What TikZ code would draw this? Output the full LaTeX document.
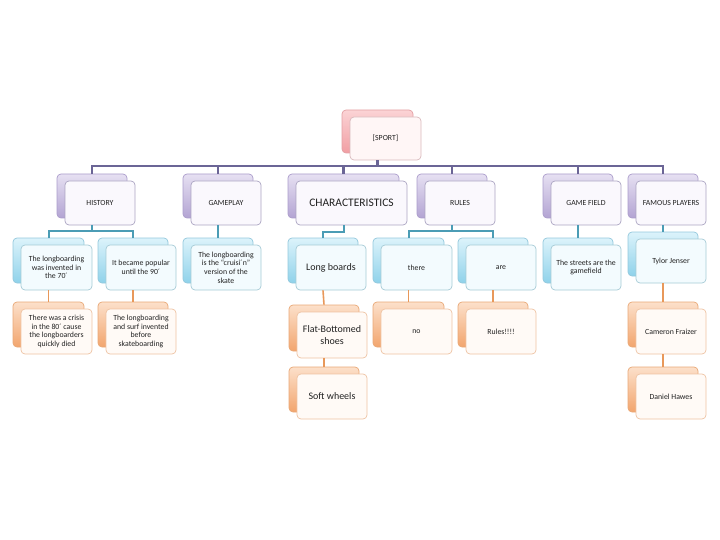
\documentclass[tikz,border=0pt]{standalone}
\usepackage{fontspec}
\setmainfont{Carlito}
\usetikzlibrary{calc}
\definecolor{txt}{HTML}{222222}
\definecolor{barc}{HTML}{6B6596}
\definecolor{tealc}{HTML}{4B9CB5}
\definecolor{orc}{HTML}{E8985A}
\definecolor{pkT}{HTML}{FBD3D5}\definecolor{pkB}{HTML}{F19EA3}\definecolor{pkD}{HTML}{E3A0A4}
\definecolor{pkF}{HTML}{FFF6F6}\definecolor{pkE}{HTML}{D9B9BC}
\definecolor{lvT}{HTML}{E6E0F2}\definecolor{lvB}{HTML}{B3A4D3}\definecolor{lvD}{HTML}{AB9DCB}
\definecolor{lvF}{HTML}{FAF8FD}\definecolor{lvE}{HTML}{ABA4C2}
\definecolor{cyT}{HTML}{DCF3FB}\definecolor{cyB}{HTML}{8FD2EA}\definecolor{cyD}{HTML}{93C8DC}
\definecolor{cyF}{HTML}{F3FBFE}\definecolor{cyE}{HTML}{A6CBD6}
\definecolor{orT}{HTML}{FCE0CA}\definecolor{orB}{HTML}{F2A56E}\definecolor{orD}{HTML}{E9A877}
\definecolor{orF}{HTML}{FFFAF6}\definecolor{orE}{HTML}{EEC3A3}
\tikzset{
  boxbase/.style={rectangle, rounded corners=4pt, inner sep=1pt, line width=0.7pt, align=center, text=txt, font=\fontsize{7.8}{8.6}\selectfont},
  backP/.style={boxbase, draw=pkD, top color=pkT, bottom color=pkB},
  backL/.style={boxbase, draw=lvD, top color=lvT, bottom color=lvB},
  backC/.style={boxbase, draw=cyD, top color=cyT, bottom color=cyB},
  backO/.style={boxbase, draw=orD, top color=orT, bottom color=orB},
  frontP/.style={boxbase, draw=pkE, fill=pkF},
  frontL/.style={boxbase, draw=lvE, fill=lvF},
  frontC/.style={boxbase, draw=cyE, fill=cyF},
  frontO/.style={boxbase, draw=orE, fill=orF},
  bigtext/.style={font=\fontsize{10}{11.5}\selectfont},
  hugetext/.style={font=\fontsize{11.5}{13}\selectfont},
  barline/.style={draw=barc, line width=2.2pt},
  tealline/.style={draw=tealc, line width=2pt},
  orline/.style={draw=orc, line width=1.6pt},
}
% #1 name, #2 cx, #3 cy (back box), #4 w, #5 h, #6 colour key, #7 extra style, #8 text
\newcommand{\dblbox}[8]{%
  \node[back#6, minimum width=#4pt, minimum height=#5pt] (#1b) at (#2,#3) {};
  \node[front#6, #7, minimum width=#4pt, minimum height=#5pt] (#1) at ($(#1b)+(8,7)$) {#8};}
\begin{document}
\begin{tikzpicture}[x=1pt,y=-1pt]
\useasboundingbox (0,0) rectangle (720,540);
% root
\dblbox{sport}{377.5}{131.5}{71}{43}{P}{}{[SPORT]}
% level 1
\dblbox{hist}{92}{196}{70}{44}{L}{}{HISTORY}
\dblbox{game}{218}{196}{70}{44}{L}{}{GAMEPLAY}
\dblbox{char}{343.5}{196}{111}{44}{L}{hugetext}{CHARACTERISTICS}
\dblbox{rules}{452}{196}{70}{44}{L}{}{RULES}
\dblbox{field}{578}{196}{70}{44}{L}{}{GAME FIELD}
\dblbox{famous}{663}{196}{70}{44}{L}{}{FAMOUS PLAYERS}
% level 2
\dblbox{inv}{48.5}{260.5}{71}{45}{C}{}{The longboarding\\was invented in\\the 70´}
\dblbox{pop}{133}{260.5}{70}{45}{C}{}{It became popular\\until the 90´}
\dblbox{cruis}{218}{260.5}{70}{45}{C}{}{The longboarding\\is the “cruisi´n”\\version of the\\skate}
\dblbox{longb}{323}{260.5}{70}{45}{C}{bigtext}{Long boards}
\dblbox{there}{408.5}{260.5}{71}{45}{C}{}{there}
\dblbox{are}{493}{260.5}{70}{45}{C}{}{are}
\dblbox{streets}{578}{260.5}{70}{45}{C}{}{The streets are the\\gamefield}
\dblbox{tylor}{663}{254}{70}{44}{C}{}{Tylor Jenser}
% level 3
\dblbox{crisis}{48.5}{324.5}{71}{45}{O}{}{There was a crisis\\in\ the 80´ cause\\the longboarders\\quickly died}
\dblbox{surf}{133}{324.5}{70}{45}{O}{}{The longboarding\\and surf invented\\before\\skateboarding}
\dblbox{flat}{324}{328}{70}{46}{O}{bigtext}{Flat-Bottomed\\shoes}
\dblbox{no}{408.5}{324.5}{71}{45}{O}{}{no}
\dblbox{rul}{493}{324.5}{70}{45}{O}{}{Rules!!!!}
\dblbox{cam}{663}{324.5}{70}{45}{O}{}{Cameron Fraizer}
% level 4
\dblbox{soft}{324}{389.5}{70}{45}{O}{bigtext}{Soft wheels}
\dblbox{dan}{663}{389.5}{70}{45}{O}{}{Daniel Hawes}
% connectors root -> level 1
\foreach \c in {hist,game,char,rules,field,famous}
  \draw[barline] (sportb.center |- sport.south) -- ++(0,6) -| (\c b.north);
% level 1 -> level 2
\foreach \c in {inv,pop}
  \draw[tealline] (histb.center |- hist.south) -- ++(0,6) -| (\c b.north);
\draw[tealline] (gameb.center |- game.south) -- (cruisb.north);
\draw[tealline] (charb.center |- char.south) -- ++(0,7) -| (longbb.north);
\foreach \c in {there,are}
  \draw[tealline] (rulesb.center |- rules.south) -- ++(0,6) -| (\c b.north);
\draw[tealline] (fieldb.center |- field.south) -- (streetsb.north);
\draw[tealline] (famousb.center |- famous.south) -- (tylorb.north);
% level 2 -> level 3
\draw[orline] (invb.center |- inv.south) -- (crisisb.north);
\draw[orline] (popb.center |- pop.south) -- (surfb.north);
\draw[orline] (longbb.center |- longb.south) -- (flatb.north);
\draw[orline] (thereb.center |- there.south) -- (nob.north);
\draw[orline] (areb.center |- are.south) -- (rulb.north);
\draw[orline] (tylorb.center |- tylor.south) -- (camb.north);
% level 3 -> level 4
\draw[orline] (flatb.center |- flat.south) -- (softb.north);
\draw[orline] (camb.center |- cam.south) -- (danb.north);
\end{tikzpicture}
\end{document}
